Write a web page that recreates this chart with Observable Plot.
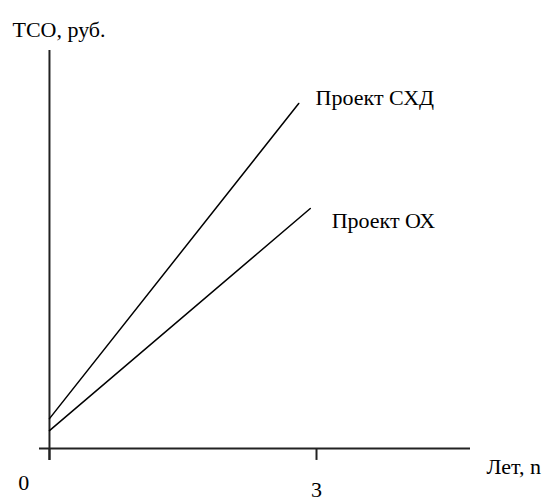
<!DOCTYPE html>
<html>
<head>
<meta charset="utf-8">
<script src="https://cdn.jsdelivr.net/npm/d3@7"></script>
<script src="https://cdn.jsdelivr.net/npm/@observablehq/plot@0.6"></script>
<style>
  html, body { margin: 0; padding: 0; background: #fff; }
  svg { display: block; }
  svg text { font-family: "Liberation Serif", "DejaVu Serif", "Times New Roman", Times, serif !important; }
</style>
</head>
<body>
<div id="chart"></div>
<script>
// Data (TCO in arbitrary units)
const shdYears = [0, 2.8];
const shdTCO = [7.5, 86.7];
const ohYears = [0, 2.93];
const ohTCO = [4.5, 60.3];

const seriesNames = ["Проект СХД", "Проект ОХ"];
const seriesLabelX = [2.99, 3.17];
const seriesLabelY = [86.4, 55.5];

const xTicks = [0, 3];
const xTickLabels = ["0", "3"];
const xTickLabelX = [-0.29, 3];
const xTickLabelY = [-10.55, -12.3];

const yAxisTitle = "ТСО, руб.";
const xAxisTitle = "Лет, n";

const lines = [
  ...shdYears.map((x, i) => ({series: seriesNames[0], x, y: shdTCO[i]})),
  ...ohYears.map((x, i) => ({series: seriesNames[1], x, y: ohTCO[i]}))
];
const seriesLabels = seriesNames.map((name, i) => ({name, x: seriesLabelX[i], y: seriesLabelY[i]}));
const tickLabels = xTickLabels.map((t, i) => ({t, x: xTickLabelX[i], y: xTickLabelY[i]}));

const font = "'Liberation Serif', 'DejaVu Serif', serif";
const textOpts = {textAnchor: "start", lineAnchor: "bottom", fill: "#000", fontSize: 22, fontFamily: font};

const chart = Plot.plot({
  width: 551,
  height: 501,
  margin: 0,
  style: {fontFamily: font, fontSize: "22px", background: "#fff", color: "#000"},
  x: {domain: [-0.112, 4.73], range: [39, 470], axis: null},
  y: {domain: [0, 100], range: [448, 50], axis: null},
  marks: [
    // axes
    Plot.ruleY([0], {x1: -0.112, x2: 4.73, stroke: "#222", strokeWidth: 2}),
    Plot.ruleX([0], {y1: -3, y2: 100, stroke: "#222", strokeWidth: 2}),
    Plot.ruleX(xTicks, {y1: -3, y2: 0, stroke: "#222", strokeWidth: 2}),
    // lines
    Plot.line(lines, {x: "x", y: "y", z: "series", stroke: "#000", strokeWidth: 1.5}),
    // labels
    Plot.text(seriesLabels, {x: "x", y: "y", text: "name", ...textOpts}),
    Plot.text(tickLabels, {x: "x", y: "y", text: "t", ...textOpts, textAnchor: "middle"}),
    Plot.text([yAxisTitle], {x: -0.416, y: 103.5, text: d => d, ...textOpts}),
    Plot.text([xAxisTitle], {x: 4.91, y: -6.3, text: d => d, ...textOpts})
  ]
});
document.getElementById("chart").appendChild(chart);
</script>
</body>
</html>
